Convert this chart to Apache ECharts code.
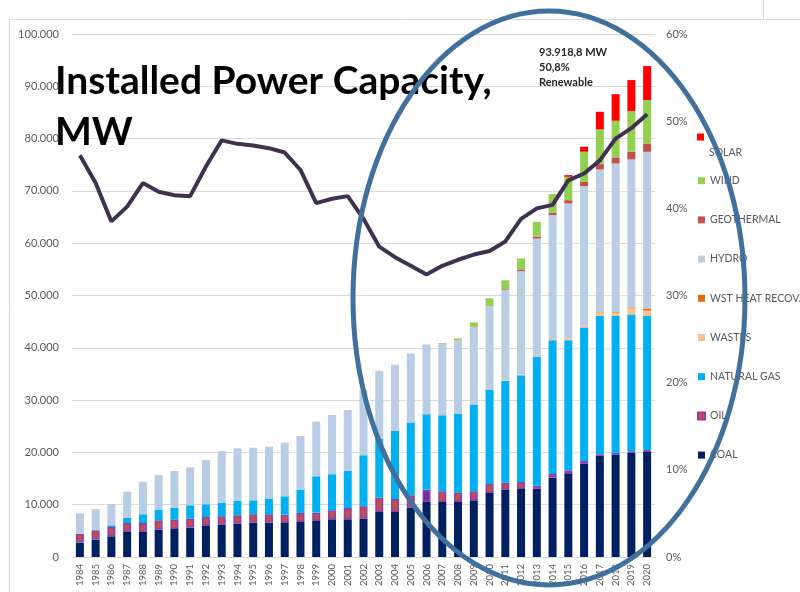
<!DOCTYPE html>
<html>
<head>
<meta charset="utf-8">
<script src="https://cdn.jsdelivr.net/npm/echarts@6/dist/echarts.min.js"></script>
<style>
html,body{margin:0;padding:0;background:#fff;}
#chart{width:800px;height:592px;}
</style>
</head>
<body>
<div id="chart"></div>
<script>
const years = ['1984','1985','1986','1987','1988','1989','1990','1991','1992','1993','1994','1995','1996','1997','1998','1999','2000','2001','2002','2003','2004','2005','2006','2007','2008','2009','2010','2011','2012','2013','2014','2015','2016','2017','2018','2019','2020'];
const coal = [2750,3330,3960,4780,4780,5240,5360,5620,6060,6190,6390,6580,6580,6510,6700,6900,7210,7210,7330,8610,8610,9440,10520,10520,10520,10840,12240,12880,13010,13070,15180,16010,17860,19320,19580,19960,20210];
const oil = [1700,1770,1780,1720,1720,1780,1790,1730,1590,1590,1590,1590,1590,1590,1720,1580,1720,2160,2360,2740,2490,2360,2360,2040,1790,1720,1730,1340,1340,580,700,570,510,320,320,250,260];
const naturalGas = [0,0,320,960,1670,2050,2220,2540,2430,2620,2730,2670,3000,3510,4470,6960,6890,7080,9760,11300,13010,13910,14420,14540,15110,16590,18050,19450,20410,24610,25570,24870,25500,26470,26210,26150,25640];
const wastes = [0,0,0,0,0,0,0,0,0,0,0,0,0,0,0,0,0,0,0,30,30,30,40,40,60,80,90,110,150,180,240,380,330,630,630,1210,1000];
const wstHeat = [0,0,0,0,0,0,0,0,0,0,0,0,0,0,0,0,0,0,0,0,0,0,0,0,0,0,0,0,0,0,0,0,0,80,100,150,400];
const hydro = [3850,3970,3960,4970,6180,6560,7030,7210,8420,9820,10030,10010,9870,10200,10200,10390,11290,11610,12350,12870,12590,13090,13190,13590,13910,14730,15940,17350,19760,22450,23670,25770,26710,27280,28410,28290,29970];
const geothermal = [18,18,18,18,18,18,18,18,18,18,18,18,18,18,18,18,18,18,18,15,15,15,23,23,30,77,94,114,320,380,450,630,830,1020,1150,1470,1590];
const wind = [0,0,0,0,0,0,0,0,0,0,0,0,0,0,9,9,19,19,19,19,19,20,59,146,364,800,1320,1660,2100,2810,3570,4470,5740,6630,7010,7780,8290];
const solar = [0,0,0,0,0,0,0,0,0,0,0,0,0,0,0,0,0,0,0,0,0,0,0,0,0,0,0,0,0,0,0,320,960,3380,5100,5930,6510];
const renewableShare = [46.1,42.9,38.5,40.2,42.9,41.9,41.5,41.4,44.8,47.8,47.4,47.2,46.9,46.4,44.4,40.6,41.1,41.4,38.8,35.6,34.4,33.4,32.4,33.4,34.1,34.7,35.1,36.2,38.8,40.0,40.4,43.2,44.0,45.5,48.0,49.2,50.8];
const leftTicks = {min:0, max:100000, interval:10000};
const rightTicks = {min:0, max:60, interval:10};

const FONT = 'Lato, "Liberation Sans", sans-serif';
const grey = '#595959';
const chart = echarts.init(document.getElementById('chart'), null, {renderer:'canvas'});

function fmtThousands(v){ return String(v).replace(/\B(?=(\d{3})+(?!\d))/g, '.'); }

function bar(name, data, color, extra){
  return Object.assign({
    name, type:'bar', stack:'total', data, barWidth:8,
    itemStyle:{color}, emphasis:{disabled:true}, z:2
  }, extra||{});
}

const oilData = oil.map((v,i)=> years[i]==='2006' ? {value:v, itemStyle:{color:'#7030a0'}} : v);

const option = {
  backgroundColor:'#ffffff',
  animation:false,
  textStyle:{fontFamily:FONT},
  grid:{left:72, right:145, top:34, bottom:35},
  legend:[
    {
      data:['SOLAR'], orient:'vertical', left:697, top:113, padding:0,
      itemWidth:7, itemHeight:7, icon:'rect', selectedMode:false,
      formatter:n=>'\n\n'+n,
      textStyle:{color:grey, fontSize:10.5, fontFamily:FONT, lineHeight:16}
    },
    {
      data:['WIND','GEOTHERMAL','HYDRO','WST HEAT RECOV.','WASTES','NATURAL GAS','OIL','COAL'],
      orient:'vertical', left:697, top:173.7, padding:0, itemGap:25.2,
      itemWidth:7, itemHeight:7, icon:'rect', selectedMode:false,
      textStyle:{color:grey, fontSize:10.5, fontFamily:FONT, lineHeight:14}
    }
  ],
  xAxis:{
    type:'category', data:years,
    axisLine:{lineStyle:{color:'#d9d9d9'}},
    axisTick:{show:false},
    axisLabel:{rotate:90, color:grey, fontSize:9.5, fontFamily:FONT, margin:7, interval:0}
  },
  yAxis:[
    {
      type:'value', min:leftTicks.min, max:leftTicks.max, interval:leftTicks.interval,
      axisLine:{show:false}, axisTick:{show:false},
      splitLine:{lineStyle:{color:'#d9d9d9', width:1}},
      axisLabel:{color:grey, fontSize:11, fontFamily:FONT, margin:13, formatter:v=>fmtThousands(v)}
    },
    {
      type:'value', min:rightTicks.min, max:rightTicks.max, interval:rightTicks.interval,
      axisLine:{show:false}, axisTick:{show:false}, splitLine:{show:false},
      axisLabel:{color:grey, fontSize:11, fontFamily:FONT, margin:11, formatter:'{value}%'}
    }
  ],
  series:[
    bar('COAL', coal, '#002060'),
    bar('OIL', oilData, '#c0504d', {itemStyle:{color:'#c0504d', borderColor:'#8e3fae', borderWidth:1.5}}),
    bar('NATURAL GAS', naturalGas, '#00b0f0'),
    bar('WASTES', wastes, '#fac090'),
    bar('WST HEAT RECOV.', wstHeat, '#e46c0a'),
    bar('HYDRO', hydro, '#b9cde5'),
    bar('GEOTHERMAL', geothermal, '#c0504d'),
    bar('WIND', wind, '#92d050'),
    bar('SOLAR', solar, '#ff0000'),
    {
      name:'Renewable share', type:'line', yAxisIndex:1, data:renewableShare,
      symbol:'none', lineStyle:{color:'#403152', width:4}, itemStyle:{color:'#403152'},
      z:5, emphasis:{disabled:true}
    }
  ],
  graphic:[
    {type:'line', shape:{x1:9, y1:19.5, x2:800, y2:19.5}, style:{stroke:'#d9d9d9', lineWidth:1}, z:0, silent:true},
    {type:'line', shape:{x1:9.5, y1:19, x2:9.5, y2:592}, style:{stroke:'#d9d9d9', lineWidth:1}, z:0, silent:true},
    {type:'line', shape:{x1:763.5, y1:0, x2:763.5, y2:19}, style:{stroke:'#d9d9d9', lineWidth:1}, z:0, silent:true},
    {
      type:'text', left:55, top:55.5, z:10, silent:true,
      style:{text:'Installed Power Capacity,\nMW', font:'bold 39px '+FONT, fill:'#000000', lineHeight:51}
    },
    {
      type:'text', left:539, top:44.5, z:10, silent:true,
      style:{text:'93.918,8 MW\n50,8%\nRenewable', font:'bold 11px '+FONT, fill:'#262626', lineHeight:15.3}
    },
    {
      type:'ellipse', shape:{cx:549, cy:298, rx:196, ry:287}, z:20, silent:true,
      style:{fill:null, stroke:'#41709c', lineWidth:5}
    }
  ]
};
chart.setOption(option);
</script>
</body>
</html>
